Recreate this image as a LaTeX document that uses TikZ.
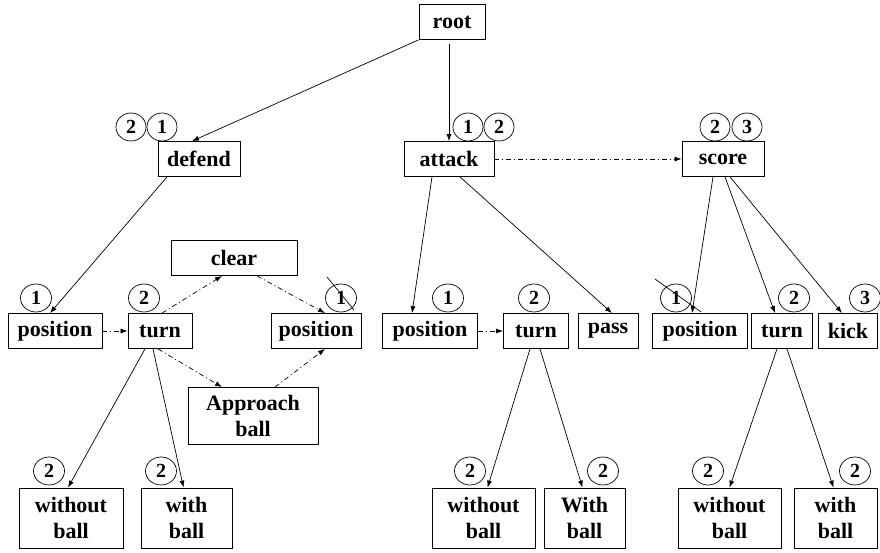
\documentclass[tikz,border=0pt]{standalone}
\usepackage{fontspec}
\setmainfont{Liberation Serif}
\usetikzlibrary{shapes.geometric,arrows.meta}
\begin{document}
\begin{tikzpicture}[x=1pt,y=-1pt,
  box/.style={draw, line width=0.8pt, inner sep=0pt, minimum height=35pt, font=\bfseries\fontsize{22}{24}\selectfont},
  bbox/.style={draw, line width=0.8pt, inner sep=0pt, minimum height=60pt, align=center, font=\bfseries\fontsize{22}{26}\selectfont},
  numa/.style={draw, ellipse, line width=0.7pt, inner sep=0pt, minimum width=30pt, minimum height=28pt, font=\bfseries\fontsize{20}{20}\selectfont},
  numb/.style={draw, ellipse, line width=0.7pt, inner sep=0pt, minimum width=31pt, minimum height=28pt, font=\bfseries\fontsize{20}{20}\selectfont},
  arr/.style={line width=0.7pt, -{Latex[length=7pt,width=5pt]}},
  darr/.style={arr, dash pattern=on 5pt off 3pt on 1pt off 3pt},
  slash/.style={line width=0.7pt}
]
\useasboundingbox (0,0) rectangle (880,552);
% top
\node[box, minimum width=66pt, minimum height=35pt] (root) at (452,22) {root};
\node[box, minimum width=82pt] (defend) at (199,159) {defend};
\node[box, minimum width=90pt] (attack) at (449,159) {attack};
\node[box, minimum width=82pt] (score) at (723,159) {score};
\node[numa] (cd2) at (131,127) {2};
\node[numa] (cd1) at (162,127) {1};
\node[numa] (ca1) at (468,127) {1};
\node[numa] (ca2) at (499,127) {2};
\node[numa] (cs2) at (715,127) {2};
\node[numa] (cs3) at (747,127) {3};
% second row
\node[box, minimum width=126pt] (clear) at (234,258) {clear};
\node[box, minimum width=94pt] (posL) at (55,331) {position};
\node[box, minimum width=64pt] (turnL) at (160,331) {turn};
\node[box, minimum width=90pt] (posR) at (316,331) {position};
\node[box, minimum width=130pt, minimum height=57pt, align=center, font=\bfseries\fontsize{22}{26}\selectfont] (appr) at (253,416) {Approach\\ball};
\node[box, minimum width=95pt] (posM) at (430,331) {position};
\node[box, minimum width=65pt] (turnM) at (536,331) {turn};
\node[box, minimum width=60pt] (pass) at (608,331) {pass};
\node[box, minimum width=95pt] (posRR) at (700,331) {position};
\node[box, minimum width=61pt] (turnRR) at (782,331) {turn};
\node[box, minimum width=59pt] (kick) at (848,331) {kick};
\node[numb] (n1) at (36,298) {1};
\node[numb] (n2) at (144,298) {2};
\node[numb] (n3) at (341,298) {1};
\node[numb] (n4) at (448,298) {1};
\node[numb] (n5) at (534,298) {2};
\node[numb] (n6) at (676,298) {1};
\node[numb] (n7) at (794,298) {2};
\node[numb] (n8) at (865,298) {3};
% bottom row
\node[bbox, minimum width=104pt] (wbL) at (71,518) {without\\ball};
\node[bbox, minimum width=91pt] (wL) at (186.5,518) {with\\ball};
\node[bbox, minimum width=103pt] (wbM) at (483.5,518) {without\\ball};
\node[bbox, minimum width=81pt] (WM) at (584.5,518) {With\\ball};
\node[bbox, minimum width=103pt] (wbR) at (729.5,518) {without\\ball};
\node[bbox, minimum width=83pt] (wR) at (835.5,518) {with\\ball};
\node[numb] (b1) at (49,471) {2};
\node[numb] (b2) at (161,471) {2};
\node[numb] (b3) at (470,471) {2};
\node[numb] (b4) at (603,471) {2};
\node[numb] (b5) at (708,471) {2};
\node[numb] (b6) at (855,471) {2};
% crossing strokes
\coordinate (x1a) at (327,277); \coordinate (x1b) at (354,310);
\coordinate (x2a) at (655,279); \coordinate (x2b) at (701,312);
\draw[slash] (x1a) -- (x1b);
\draw[slash] (x2a) -- (x2b);
% solid edges
\draw[arr] (root.south west) -- ([xshift=-7pt]defend.north);
\draw[arr] ([xshift=-3pt,yshift=-4pt]root.south) -- (attack.north);
\draw[arr] ([xshift=-32pt]defend.south) -- ([xshift=-5pt]posL.north);
\draw[arr] ([xshift=-17pt]attack.south) -- ([xshift=-18pt]posM.north);
\draw[arr] ([xshift=11pt]attack.south) -- ([xshift=4pt]pass.north);
\draw[arr] ([xshift=-10pt]score.south) -- ([xshift=-8pt]posRR.north);
\draw[arr] ([xshift=2pt]score.south) -- ([xshift=-7pt]turnRR.north);
\draw[arr] ([xshift=7pt]score.south) -- ([xshift=-6pt]kick.north);
\draw[arr] ([xshift=-15pt]turnL.south) -- ([xshift=-3pt]wbL.north);
\draw[arr] ([xshift=-7pt]turnL.south) -- ([xshift=-3pt]wL.north);
\draw[arr] ([xshift=-6pt]turnM.south) -- ([xshift=4pt]wbM.north);
\draw[arr] ([xshift=4pt]turnM.south) -- ([xshift=-2pt]WM.north);
\draw[arr] ([xshift=-5pt]turnRR.south) -- ([xshift=0pt]wbR.north);
\draw[arr] ([xshift=5pt]turnRR.south) -- ([xshift=-2pt]wR.north);
% dash-dot edges
\draw[darr] (attack.east) -- (score.west);
\draw[darr] (posL.east) -- (turnL.west);
\draw[darr] (posM.east) -- (turnM.west);
\draw[darr] ([xshift=2pt]turnL.north) -- ([xshift=-12pt]clear.south);
\draw[darr] ([xshift=23pt]clear.south) -- ([xshift=9pt]posR.north);
\draw[darr] ([xshift=-2pt]turnL.south) -- ([xshift=-31pt]appr.north);
\draw[darr] ([xshift=22pt]appr.north) -- ([xshift=9pt]posR.south);
\end{tikzpicture}
\end{document}
